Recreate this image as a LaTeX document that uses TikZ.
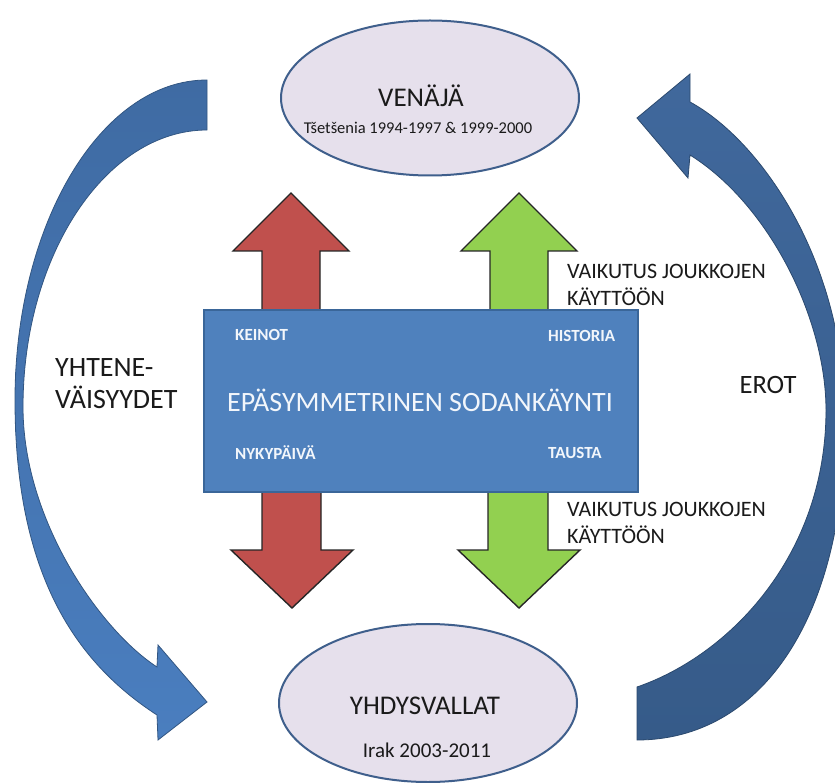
\documentclass[tikz,border=0pt]{standalone}
\usepackage{fontspec}
\setmainfont{Carlito}
\usetikzlibrary{shapes.geometric}
\definecolor{ellfill}{HTML}{E6E0EC}
\definecolor{ellline}{HTML}{3F5F8C}
\definecolor{rectfill}{HTML}{4F81BD}
\definecolor{rectline}{HTML}{3A6699}
\definecolor{redA}{HTML}{C0504D}
\definecolor{greenA}{HTML}{92D050}
\definecolor{curvLa}{HTML}{3F6BA3}
\definecolor{curvLb}{HTML}{4A7EBF}
\definecolor{curvRa}{HTML}{40689C}
\definecolor{curvRb}{HTML}{365B89}
\definecolor{txt}{HTML}{1A1A1A}
\definecolor{intxt}{HTML}{F2F6FB}
\begin{document}
\begin{tikzpicture}[x=1pt,y=-1pt,
  lbl/.style={text=txt, inner sep=0pt},
  inlbl/.style={text=intxt, inner sep=0pt, anchor=west, font=\bfseries\fontsize{17}{20}\selectfont},
  ell/.style={ellipse, draw=ellline, line width=2pt, fill=ellfill, minimum width=298, minimum height=155, inner sep=0pt},
  barrow/.style={draw=black!85, line width=1.4pt, line join=miter},
  curvL/.style={draw=curvLa!80!black, line width=0.8pt, top color=curvLa, bottom color=curvLb},
  curvR/.style={draw=curvRb!80!black, line width=0.8pt, top color=curvRa, bottom color=curvRb}]
\useasboundingbox (0,0) rectangle (835,783);
\fill[white] (0,0) rectangle (835,783);

% curved arrows
\path[curvL] (207,80) .. controls (101,80) and (15,224) .. (15,400)
  .. controls (15,580) and (80,665) .. (157,715)
  -- (158,740) -- (207,702) -- (158,645) -- (157,667)
  .. controls (100,630) and (23,520) .. (23,407)
  .. controls (23,255) and (106,130) .. (207,130) -- cycle;

\path[curvR] (637,118) -- (690,74) -- (690,102)
  .. controls (760,140) and (845,260) .. (845,420)
  .. controls (845,620) and (760,740) .. (637,740)
  -- (637,687)
  .. controls (730,655) and (826,555) .. (826,410)
  .. controls (826,320) and (770,205) .. (690,155)
  -- (688,178) -- cycle;

% straight arrows
\draw[barrow, fill=redA] (262,330) -- (262,251) -- (233,251) -- (291,193) -- (349,251) -- (320,251) -- (320,330) -- cycle;
\draw[barrow, fill=greenA] (490,330) -- (490,251) -- (461,251) -- (519,193) -- (577,251) -- (548,251) -- (548,330) -- cycle;
\draw[barrow, fill=redA] (262,470) -- (262,550) -- (231,550) -- (292,608) -- (353,550) -- (321,550) -- (321,470) -- cycle;
\draw[barrow, fill=greenA] (488,470) -- (488,550) -- (458,550) -- (519,608) -- (580,550) -- (548,550) -- (548,470) -- cycle;

% central rectangle
\node[draw=rectline, fill=rectfill, line width=1.5pt, minimum width=434, minimum height=182, inner sep=0pt] (core) at (421,401) {};
\node[text=intxt, inner sep=0pt, font=\fontsize{28}{33}\selectfont] (title) at (420,400) {EPÄSYMMETRINEN SODANKÄYNTI};
\node[inlbl] (keinot) at (235,335) {KEINOT};
\node[inlbl] (historia) at (548,336) {HISTORIA};
\node[inlbl] (nyky) at (235,453) {NYKYPÄIVÄ};
\node[inlbl] (tausta) at (548,453) {TAUSTA};

% ellipses
\node[ell] (venaja) at (430,98) {};
\node[lbl, font=\fontsize{27}{32}\selectfont] (venajat) at (421,96) {VENÄJÄ};
\node[lbl, font=\fontsize{16.5}{19}\selectfont] (tset) at (418,128) {Tšetšenia 1994-1997 \& 1999-2000};

\node[ell, minimum height=158] (usa) at (428,703) {};
\node[lbl, font=\fontsize{27}{32}\selectfont] (usat) at (425,706) {YHDYSVALLAT};
\node[lbl, font=\fontsize{21}{25}\selectfont] (irak) at (427,750) {Irak 2003-2011};

% side labels
\node[lbl, anchor=west, align=left, font=\fontsize{28}{32}\selectfont] (yht) at (55,384) {YHTENE-\\VÄISYYDET};
\node[lbl, font=\fontsize{26.5}{31}\selectfont] (erot) at (768,385) {EROT};
\node[lbl, anchor=west, align=left, font=\fontsize{22}{26.5}\selectfont] (vaik1) at (567,285) {VAIKUTUS JOUKKOJEN\\KÄYTTÖÖN};
\node[lbl, anchor=west, align=left, font=\fontsize{22}{26.5}\selectfont] (vaik2) at (567,523) {VAIKUTUS JOUKKOJEN\\KÄYTTÖÖN};
\end{tikzpicture}
\end{document}
